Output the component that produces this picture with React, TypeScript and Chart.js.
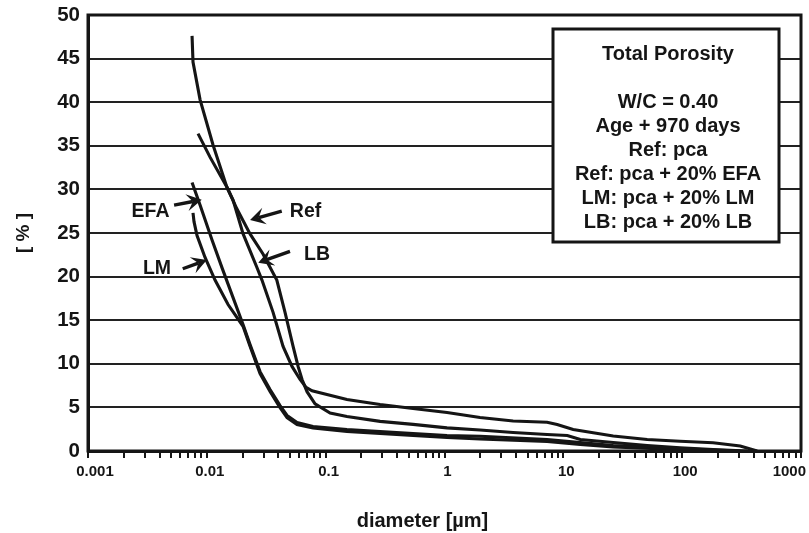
import React, { useEffect, useRef } from 'react';
import { Chart, registerables } from 'chart.js';

Chart.register(...registerables);

// ---------- data ----------
const xTickLabels = ['0.001', '0.01', '0.1', '1', '10', '100', '1000'];
const yTickStep = 5;
const yMin = 0;
const yMax = 50;

const refX = [0.00751, 0.00765, 0.00877, 0.01128, 0.0147, 0.0166, 0.0202, 0.0263, 0.0291, 0.0361, 0.0438, 0.0521, 0.0609, 0.0684, 0.0768, 0.151, 0.287, 0.544, 1.05, 1.99, 3.78, 7.3, 8.87, 12.1, 26.3, 50.8, 96, 182, 308, 428];
const refY = [47.6, 44.6, 40.3, 35.1, 30.3, 28.8, 24.9, 21.1, 19.6, 15.9, 12.0, 9.7, 8.2, 7.3, 6.9, 5.9, 5.33, 4.87, 4.41, 3.84, 3.44, 3.3, 3.04, 2.46, 1.72, 1.32, 1.12, 0.94, 0.57, 0];

const lbX = [0.00843, 0.01064, 0.0147, 0.01785, 0.0231, 0.0297, 0.0388, 0.0455, 0.0532, 0.0586, 0.0633, 0.0697, 0.0814, 0.109, 0.151, 0.287, 0.544, 1.05, 1.99, 3.78, 7.3, 10.8, 13.9, 26.3, 50.8, 96, 182, 352];
const lbY = [36.4, 33.7, 30.3, 27.8, 24.9, 22.6, 19.6, 15.9, 12.0, 9.7, 8.2, 6.8, 5.4, 4.35, 3.95, 3.4, 3.05, 2.65, 2.4, 2.12, 1.89, 1.78, 1.32, 0.97, 0.63, 0.37, 0.17, 0];

const efaX = [0.00751, 0.00877, 0.01106, 0.01343, 0.0163, 0.02017, 0.0231, 0.02804, 0.03404, 0.04132, 0.04732, 0.05743, 0.0783, 0.151, 0.287, 0.544, 1.05, 1.99, 7.3, 13.9, 26.3, 69.2, 182, 308];
const efaY = [30.8, 28.2, 24.2, 21.0, 17.9, 14.5, 12.2, 9.1, 7.04, 5.21, 4.07, 3.27, 2.81, 2.46, 2.23, 2.0, 1.78, 1.7, 1.32, 0.97, 0.63, 0.37, 0.11, 0];

const lmX = [0.00765, 0.0078, 0.00827, 0.00966, 0.01172, 0.01509, 0.02017, 0.0231, 0.02804, 0.03404, 0.04132, 0.04732, 0.05743, 0.0783, 0.151, 0.287, 0.544, 1.05, 1.99, 7.3, 13.9, 26.3, 69.2, 182, 253];
const lmY = [27.3, 26.3, 24.7, 22.2, 19.6, 16.8, 14.3, 12.0, 8.88, 6.82, 4.98, 3.84, 3.04, 2.63, 2.23, 2.0, 1.78, 1.55, 1.37, 1.09, 0.74, 0.46, 0.23, 0.06, 0];

// arrow annotations (data coordinates)
const annLabels = ['EFA', 'LM', 'Ref', 'LB'];
const annTipX = [0.00906, 0.00998, 0.0231, 0.0271];
const annTipY = [28.8, 21.9, 26.5, 21.6];
const annTailX = [0.0053, 0.00627, 0.0427, 0.0501];
const annTailY = [28.2, 20.9, 27.5, 22.9];
const annTextX = [0.00336, 0.00381, 0.0677, 0.0846];
const annTextY = [27.5, 20.9, 27.5, 22.5];

const boxLines = ['Total Porosity', '', 'W/C = 0.40', 'Age + 970 days', 'Ref: pca', 'Ref: pca + 20% EFA', 'LM: pca + 20% LM', 'LB: pca + 20% LB'];

const xAxisTitle = 'diameter [µm]';
const yAxisTitle = '[ % ]';

const FONT = '"Liberation Sans", Arial, Helvetica, sans-serif';
const INK = '#151515';

// log minor ticks 1..9 per decade
const xTickValues: number[] = [];
xTickLabels.forEach((l, i) => {
  const v = Number(l);
  if (i === xTickLabels.length - 1) { xTickValues.push(v); return; }
  for (let m = 1; m <= 9; m++) xTickValues.push(v * m);
});

function drawArrow(ctx: CanvasRenderingContext2D, x1: number, y1: number, x2: number, y2: number) {
  const dx = x2 - x1, dy = y2 - y1;
  const len = Math.hypot(dx, dy);
  const ux = dx / len, uy = dy / len;
  const nx = -uy, ny = ux;
  const headLen = 15, headW = 8.5, notch = 9;
  ctx.beginPath();
  ctx.lineWidth = 3.4;
  ctx.moveTo(x1, y1);
  ctx.lineTo(x2 - ux * notch, y2 - uy * notch);
  ctx.stroke();
  ctx.beginPath();
  ctx.moveTo(x2, y2);
  ctx.lineTo(x2 - ux * headLen + nx * headW, y2 - uy * headLen + ny * headW);
  ctx.lineTo(x2 - ux * notch, y2 - uy * notch);
  ctx.lineTo(x2 - ux * headLen - nx * headW, y2 - uy * headLen - ny * headW);
  ctx.closePath();
  ctx.fill();
}

const overlay = {
  id: 'overlay',
  afterDraw(chart: any) {
    const { ctx, chartArea: a, scales } = chart;
    const xs = scales.x, ys = scales.y;
    ctx.save();
    ctx.strokeStyle = INK;
    ctx.fillStyle = INK;
    // frame
    ctx.lineWidth = 3;
    ctx.strokeRect(a.left, a.top, a.right - a.left, a.bottom - a.top);

    // x tick labels
    ctx.font = `bold 15px ${FONT}`;
    ctx.textBaseline = 'middle';
    xTickLabels.forEach((lab, i) => {
      const px = xs.getPixelForValue(Number(lab));
      if (i === 0) { ctx.textAlign = 'center'; ctx.fillText(lab, px + 7, a.bottom + 21); }
      else if (i === xTickLabels.length - 1) { ctx.textAlign = 'right'; ctx.fillText(lab, px + 5, a.bottom + 21); }
      else { ctx.textAlign = 'center'; ctx.fillText(lab, px + 3, a.bottom + 21); }
    });

    // x title
    ctx.font = `bold 20px ${FONT}`;
    ctx.textAlign = 'center';
    ctx.fillText(xAxisTitle, (a.left + a.right) / 2 - 22, a.bottom + 70);

    // y title
    ctx.save();
    ctx.translate(a.left - 64, (a.top + a.bottom) / 2);
    ctx.rotate(-Math.PI / 2);
    ctx.font = `bold 19px ${FONT}`;
    ctx.fillText(yAxisTitle, 0, 0);
    ctx.restore();

    // arrows and labels
    annLabels.forEach((lab, i) => {
      const tx = xs.getPixelForValue(annTipX[i]), ty = ys.getPixelForValue(annTipY[i]);
      const sx = xs.getPixelForValue(annTailX[i]), sy = ys.getPixelForValue(annTailY[i]);
      drawArrow(ctx, sx, sy, tx, ty);
      ctx.font = `bold 19.5px ${FONT}`;
      ctx.textAlign = 'center';
      ctx.fillText(lab, xs.getPixelForValue(annTextX[i]), ys.getPixelForValue(annTextY[i]));
    });

    // info box
    const bw = 226, bh = 213;
    const bx = a.right - 248, by = a.top + 14;
    ctx.fillStyle = '#fff';
    ctx.fillRect(bx, by, bw, bh);
    ctx.fillStyle = INK;
    ctx.lineWidth = 3;
    ctx.strokeRect(bx, by, bw, bh);
    ctx.font = `bold 20px ${FONT}`;
    ctx.textAlign = 'center';
    const cx = bx + bw / 2 + 2;
    let yy = by + 25;
    boxLines.forEach((t, i) => {
      if (i === 0) { ctx.fillText(t, cx, yy); yy += 48; return; }
      if (t === '') return;
      ctx.fillText(t, cx, yy);
      yy += 24;
    });
    ctx.restore();
  },
};

export default function App() {
  const ref = useRef<HTMLCanvasElement | null>(null);
  useEffect(() => {
    if (!ref.current) return;
    const series = [
      { name: 'Ref', x: refX, y: refY },
      { name: 'LB', x: lbX, y: lbY },
      { name: 'EFA', x: efaX, y: efaY },
      { name: 'LM', x: lmX, y: lmY },
    ];
    const chart = new Chart(ref.current, {
      type: 'scatter',
      data: {
        datasets: series.map((s) => ({
          label: s.name,
          data: s.x.map((v, i) => ({ x: v, y: s.y[i] })),
          showLine: true,
          borderColor: INK,
          borderWidth: 3.1,
          pointRadius: 0,
          tension: 0,
          fill: false,
        })),
      },
      options: {
        animation: false,
        responsive: true,
        maintainAspectRatio: false,
        layout: { padding: { top: 15, right: 8, left: 0, bottom: 0 } },
        plugins: { legend: { display: false }, tooltip: { enabled: false } },
        scales: {
          x: {
            type: 'logarithmic',
            min: Number(xTickLabels[0]),
            max: Number(xTickLabels[xTickLabels.length - 1]),
            afterBuildTicks: (s: any) => { s.ticks = xTickValues.map((v) => ({ value: v })); },
            afterFit: (s: any) => { s.height = 82; s.paddingLeft = 0; s.paddingRight = 0; },
            ticks: { display: false },
            grid: { drawOnChartArea: false, drawTicks: true, tickLength: 7, color: INK, lineWidth: 2 },
            border: { display: true, color: INK, width: 3 },
          },
          y: {
            min: yMin,
            max: yMax,
            afterFit: (s: any) => { s.width = 88; s.paddingTop = 0; s.paddingBottom = 0; },
            ticks: { stepSize: yTickStep, color: INK, padding: 8, font: { family: FONT, size: 20.5, weight: 'bold' } },
            grid: { color: '#222', lineWidth: 2, drawTicks: false },
            border: { display: true, color: INK, width: 3 },
          },
        },
      } as any,
      plugins: [overlay],
    });
    return () => chart.destroy();
  }, []);
  return (
    <div style={{ position: 'absolute', left: 0, top: 0, width: 809, height: 533, background: '#fff' }}>
      <canvas ref={ref} />
    </div>
  );
}
